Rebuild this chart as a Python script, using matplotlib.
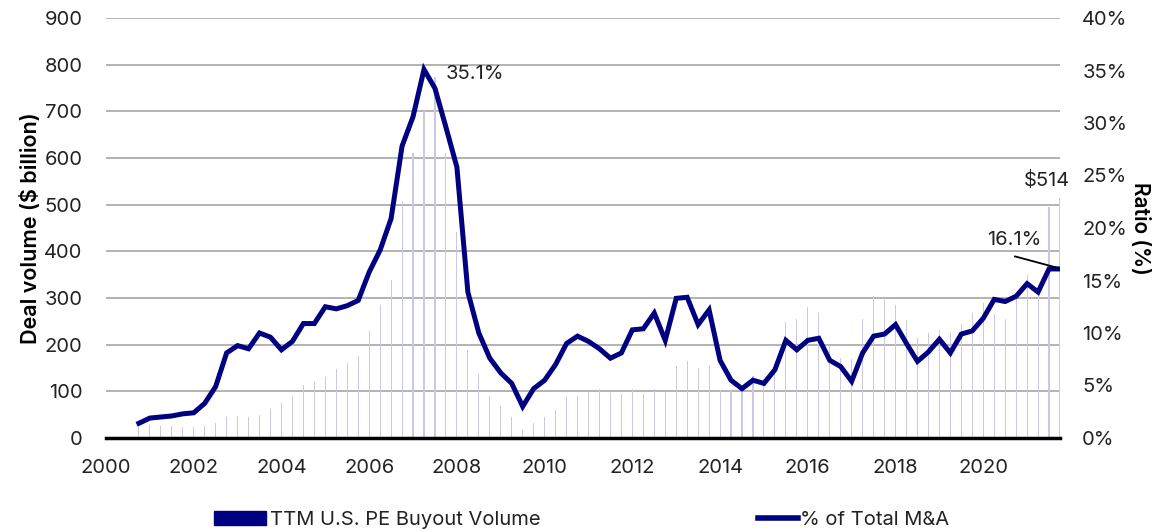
import numpy as np
import matplotlib.pyplot as plt
from matplotlib.patches import Patch
from matplotlib.lines import Line2D

plt.rcParams['font.family'] = ['Inter', 'DejaVu Sans']

# quarterly, Q4 2000 .. Q4 2021
quarters = np.arange(2000.75, 2021.76, 0.25)

# TTM U.S. PE buyout volume ($ billion)
volume = [24, 28, 25, 25, 23, 23, 26, 33, 44, 47, 46, 49, 62, 74, 90, 114, 119, 130, 148, 160,
          176, 229, 284, 339, 508, 610, 700, 774, 610, 442, 189, 137, 89, 69, 46, 17, 33, 44, 59, 88,
          90, 99, 104, 96, 95, 104, 95, 104, 99, 154, 164, 149, 154, 103, 100, 100, 132, 126, 150, 249,
          255, 281, 267, 200, 171, 169, 256, 305, 299, 285, 253, 214, 224, 232, 224, 245, 267, 290, 265, 256,
          300, 349, 328, 496, 514]

# PE buyouts as % of total M&A
ratio = [1.4, 1.9, 2.0, 2.1, 2.3, 2.4, 3.3, 4.9, 8.1, 8.8, 8.5, 10.0, 9.6, 8.4, 9.2, 10.9, 10.9, 12.5, 12.3, 12.6,
         13.1, 15.8, 17.9, 20.9, 27.8, 30.6, 35.1, 33.3, 29.6, 25.8, 13.9, 10.0, 7.6, 6.2, 5.2, 3.0, 4.7, 5.5, 7.0, 9.0,
         9.7, 9.2, 8.5, 7.6, 8.1, 10.3, 10.4, 11.9, 9.3, 13.3, 13.4, 10.8, 12.2, 7.4, 5.5, 4.7, 5.5, 5.2, 6.5, 9.3,
         8.4, 9.3, 9.5, 7.4, 6.8, 5.4, 8.1, 9.7, 9.9, 10.8, 9.0, 7.3, 8.2, 9.4, 8.1, 9.9, 10.2, 11.4, 13.2, 13.0,
         13.5, 14.7, 13.9, 16.1, 16.1]

navy = '#000080'
txt = '#222222'
fs = 14.5

fig = plt.figure(figsize=(11.59, 5.31), dpi=100)
ax = fig.add_axes([106 / 1159, 1 - 438 / 531, (1060 - 106) / 1159, 420 / 531])
ax2 = ax.twinx()

ax.bar(quarters, volume, width=0.025, color='#c9c9e6', zorder=2)
ax.set_ylim(0, 900)
ax.set_yticks(range(0, 901, 100))
ax.set_xlim(2000, 2021.75)
ax.set_xticks(range(2000, 2021, 2))
ax.grid(axis='y', color='#a6a6a6', lw=1.2, zorder=0)
ax.set_axisbelow(True)

ax2.plot(quarters, ratio, color=navy, lw=3.6, solid_joinstyle='miter', zorder=3)
ax2.set_ylim(0, 40)
ax2.set_yticks(range(0, 41, 5))
ax2.set_yticklabels([f'{v}%' for v in range(0, 41, 5)])

for a in (ax, ax2):
    for s in ('top', 'left', 'right'):
        a.spines[s].set_visible(False)
    a.tick_params(length=0, labelsize=fs, colors=txt)
ax.spines['bottom'].set_linewidth(2.5)
ax.spines['bottom'].set_color('black')
ax2.spines['bottom'].set_visible(False)
ax.tick_params(axis='y', pad=17)
ax.tick_params(axis='x', pad=15)
ax2.tick_params(axis='y', pad=16)

ax.set_ylabel('Deal volume ($ billion)', fontsize=15.5, fontweight='semibold', color='black', labelpad=2)
ax2.set_ylabel('Ratio (%)', fontsize=15, fontweight='semibold', color='black', rotation=-90, labelpad=16)

# annotations
ax2.text(quarters[26] + 0.5, 34.7, '35.1%', fontsize=fs, color=txt, va='center', ha='left')
ax.text(2021.98, volume[-1] + 17, '$514', fontsize=fs, color=txt, va='bottom', ha='right')
ax2.text(2020.71, 18.0, '16.1%', fontsize=fs, color=txt, va='bottom', ha='center')
ax2.annotate('', xy=(quarters[-1] - 0.05, ratio[-1] + 0.1), xytext=(2020.72, 17.3),
             arrowprops=dict(arrowstyle='-', color='black', lw=1.3, shrinkA=0, shrinkB=0))

# legend
fig.legend(handles=[Patch(color=navy)], labels=['TTM U.S. PE Buyout Volume'],
           loc='center left', bbox_to_anchor=(204 / 1159, 1 - 520 / 531), frameon=False,
           fontsize=fs, handlelength=2.6, handleheight=0.7, handletextpad=0.2, borderpad=0,
           labelcolor=txt)
fig.legend(handles=[Line2D([], [], color=navy, lw=4)], labels=['% of Total M&A'],
           loc='center left', bbox_to_anchor=(748 / 1159, 1 - 520 / 531), frameon=False,
           fontsize=fs, handlelength=2.0, handletextpad=0.1, borderpad=0, labelcolor=txt)

fig.savefig('out.png', dpi=100)
